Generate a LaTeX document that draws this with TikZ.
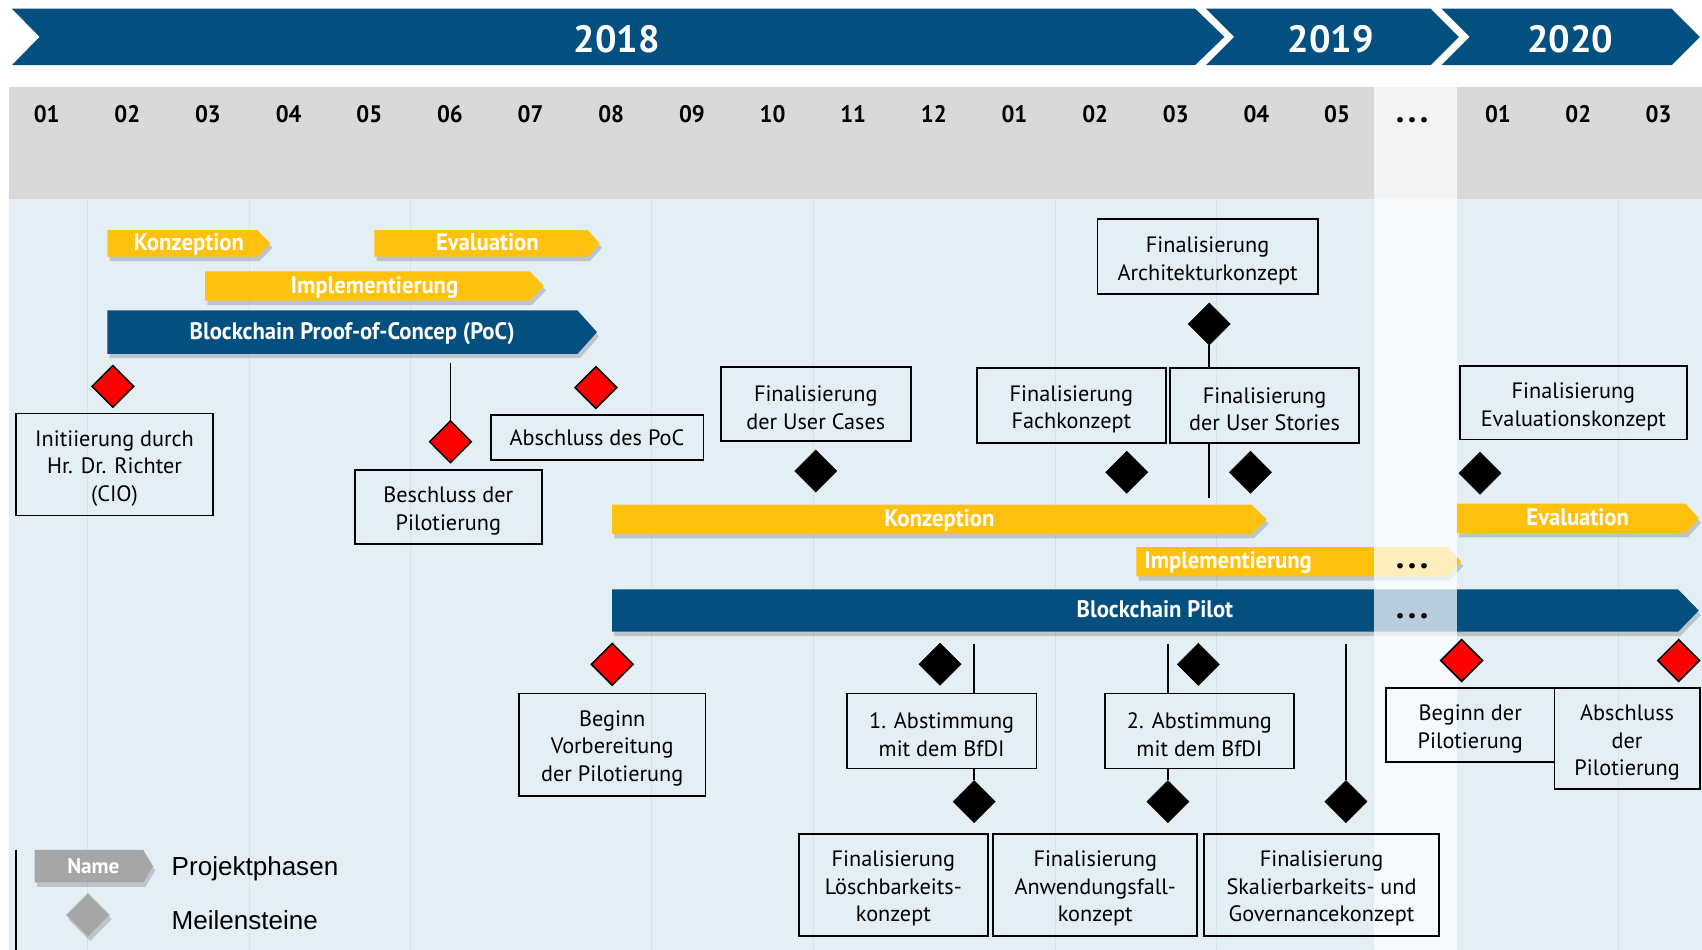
\documentclass[tikz,border=0pt]{standalone}
\usepackage{fontspec}
\setmainfont{PT Sans}
\newfontfamily\condfont{PT Sans}[FakeStretch=0.95]
\newfontfamily\arialfont{Liberation Sans}
\usetikzlibrary{shapes.geometric,shadows}
\definecolor{bundblue}{RGB}{2,79,128}
\definecolor{bundyellow}{RGB}{254,194,14}
\definecolor{headgray}{RGB}{217,217,217}
\definecolor{bgblue}{RGB}{228,239,245}
\definecolor{gridline}{RGB}{212,226,235}
\definecolor{leggray}{RGB}{166,166,166}
\newcommand\phasebar[6]{% x1, x2, tip, y1, y2, color
  \fill[#6, barshadow] (#1,#4) -- (#2,#4) -- (#3,{(#4+#5)/2}) -- (#2,#5) -- (#1,#5) -- cycle;}
\newcommand\bigdots{.\hspace{3.2pt}.\hspace{3.2pt}.}
% box with its text placed slightly below the geometric centre
\newcommand\msnode[6]{% name, cx, cy, width, height, text
  \node[msbox, minimum width=#4pt, minimum height=#5pt] (#1) at (#2,#3) {};
  \node[boxtext] (#1-t) at ([yshift=-3.5pt]#1.center) {#6};}
\begin{document}
\begin{tikzpicture}[x=1pt,y=-1pt,
  barshadow/.style={drop shadow={shadow xshift=2pt,shadow yshift=-4pt,opacity=0.22,fill=black!80}},
  bartext/.style={font=\condfont\bfseries\fontsize{22}{26}\selectfont, text=white, anchor=base, inner sep=0pt},
  monthlab/.style={font=\condfont\bfseries\fontsize{22}{26}\selectfont, anchor=base, inner sep=0pt},
  yearlab/.style={font=\bfseries\fontsize{35}{40}\selectfont, text=white, anchor=base, inner sep=0pt},
  msbox/.style={draw=black, line width=1.6pt, inner sep=0pt},
  boxtext/.style={align=center, inner sep=0pt, font=\fontsize{20.5}{25.5}\selectfont},
  redms/.style={diamond, shape aspect=1, minimum size=39pt, inner sep=0pt, draw=black, line width=1.4pt, fill=red},
  blackms/.style={diamond, shape aspect=1, minimum size=39pt, inner sep=0pt, draw=black, fill=black},
  conn/.style={draw=black, line width=1.6pt},
  dots/.style={font=\bfseries\fontsize{32}{34}\selectfont, anchor=base, inner sep=0pt},
]
% canvas
\fill[white] (0,0) rectangle (1568,875);
\useasboundingbox (0,0) rectangle (1568,875);
% year chevrons
\fill[bundblue] (11,8) -- (1101,8) -- (1128,34) -- (1101,60) -- (11,60) -- (36.5,34) -- cycle;
\fill[bundblue] (1111,8) -- (1318,8) -- (1344,34) -- (1318,60) -- (1111,60) -- (1137,34) -- cycle;
\fill[bundblue] (1328,8) -- (1540,8) -- (1566,34) -- (1540,60) -- (1328,60) -- (1354,34) -- cycle;
\node[yearlab] (y18) at (568,48.5) {2018};
\node[yearlab] (y19) at (1226,48.5) {2019};
\node[yearlab] (y20) at (1446.5,48.5) {2020};
% header and background
\fill[headgray] (8,80) rectangle (1568,183);
\fill[bgblue] (8,183) rectangle (1568,875);
\foreach \gx in {81,230,378,600,749,972,1121,1491}
  \draw[gridline, line width=0.8pt] (\gx,183) -- (\gx,875);
% phase bars (PoC)
\phasebar{99}{237}{249}{212}{236.5}{bundyellow}
\phasebar{345}{541.5}{552.5}{212}{236.5}{bundyellow}
\phasebar{189}{488}{501}{250}{277}{bundyellow}
\phasebar{99}{532}{550}{286}{326}{bundblue}
% phase bars (pilot)
\phasebar{564}{1153}{1167}{465}{492}{bundyellow}
\phasebar{1342}{1553}{1565}{464}{491}{bundyellow}
\phasebar{1047}{1333.5}{1346}{504}{531}{bundyellow}
\phasebar{564}{1546}{1565}{543}{582}{bundblue}
% "..." column overlay
\fill[white, opacity=0.72] (1266,80) rectangle (1342,875);
% month labels
\foreach \m [count=\i from 0] in {01,02,03,04,05,06,07,08,09,10,11,12,01,02,03,04,05}
  \node[monthlab] (m\i) at ({43+74.3*\i},112.5) {\m};
\node[dots] (mdots) at (1301,113) {\bigdots};
\node[monthlab] (n1) at (1380,112.5) {01};
\node[monthlab] (n2) at (1454,112.5) {02};
\node[monthlab] (n3) at (1528,112.5) {03};
% bar texts
\node[bartext] (tk1) at (174,230.5) {Konzeption};
\node[bartext] (te1) at (449,230.5) {Evaluation};
\node[bartext] (ti1) at (345,270) {Implementierung};
\node[bartext] (tpoc) at (324.5,312.5) {Blockchain Proof-of-Concep (PoC)};
\node[bartext] (tk2) at (865.5,485) {Konzeption};
\node[bartext] (te2) at (1453.5,484) {Evaluation};
\node[bartext, anchor=base west] (ti2) at (1054,524) {Implementierung};
\node[dots] (idots) at (1301,523.5) {\bigdots};
\node[bartext] (tpil) at (1064,568.5) {Blockchain Pilot};
\node[dots] (pdots) at (1301,569.5) {\bigdots};
% boxes
\msnode{init}{105.5}{428}{181}{94}{Initiierung durch\\Hr. Dr. Richter\\(CIO)}
\msnode{besch}{413}{467}{172}{68}{Beschluss der\\Pilotierung}
\node[msbox, minimum width=196pt, minimum height=42pt, font=\fontsize{20.5}{25.5}\selectfont] (abspoc) at (550,403) {Abschluss des PoC};
\msnode{ucases}{751.5}{372}{175}{68}{Finalisierung\\der User Cases}
\msnode{arch}{1112.5}{236.5}{203}{69}{Finalisierung\\Architekturkonzept}
\msnode{fach}{987}{373.5}{174}{69}{Finalisierung\\Fachkonzept}
\msnode{stories}{1165}{373.5}{174}{69}{Finalisierung\\der User Stories}
\msnode{evalk}{1449.5}{371}{209}{68}{Finalisierung\\Evaluationskonzept}
\msnode{vorb}{564}{686}{172}{94}{Beginn\\Vorbereitung\\der Pilotierung}
\msnode{abst1}{867.5}{673.5}{175}{69}{1. Abstimmung\\mit dem BfDI}
\msnode{abst2}{1105}{673.5}{174}{69}{2. Abstimmung\\mit dem BfDI}
\msnode{loesch}{823}{815}{174}{94}{Finalisierung\\Löschbarkeits-\\konzept}
\msnode{anw}{1009}{815}{188}{94}{Finalisierung\\Anwendungsfall-\\konzept}
\msnode{skal}{1217.5}{815}{217}{94}{Finalisierung\\Skalierbarkeits- und\\Governancekonzept}
\msnode{beginnp}{1354.5}{668}{155}{68}{Beginn der\\Pilotierung}
\msnode{abschp}{1499}{680.5}{134}{93}{Abschluss\\der\\Pilotierung}
% milestones
\node[redms] (R1) at (104,356) {};
\node[redms] (R2) at (415,407) {};
\node[redms] (R3) at (549,357) {};
\node[redms] (R4) at (564,612) {};
\node[redms] (R5) at (1346.5,608.5) {};
\node[redms] (R6) at (1546.5,608.5) {};
\node[blackms] (B1) at (1114,298.5) {};
\node[blackms] (B2) at (751.5,434) {};
\node[blackms] (B3) at (1038,435) {};
\node[blackms] (B4) at (1152,435) {};
\node[blackms] (B5) at (1363.5,436) {};
\node[blackms] (B6) at (866,612) {};
\node[blackms] (B7) at (897.5,738.5) {};
\node[blackms] (B8) at (1104,612) {};
\node[blackms] (B9) at (1076,738.5) {};
\node[blackms] (B10) at (1240,738.5) {};
% connectors
\coordinate (c1) at (415,334);
\coordinate (c2) at (1114,459);
\coordinate (c3) at (897.5,593);
\coordinate (c4) at (1076,593);
\coordinate (c5) at (1240,593);
\draw[conn] (c1) -- (R2.north);
\draw[conn] (B1.south) -- (B1 |- stories.north);
\draw[conn] (B1 |- stories.south) -- (c2);
\draw[conn] (c3) -- (c3 |- abst1.north);
\draw[conn] (B7 |- abst1.south) -- (B7.north);
\draw[conn] (c4) -- (c4 |- abst2.north);
\draw[conn] (B9 |- abst2.south) -- (B9.north);
\draw[conn] (c5) -- (B10.north);
% legend
\coordinate (lg1) at (14.5,783);
\coordinate (lg2) at (14.5,875);
\draw[black, line width=1.6pt] (lg1) -- (lg2);
\fill[leggray, barshadow] (32,783) -- (132,783) -- (141,798) -- (132,813) -- (32,813) -- cycle;
\node[font=\bfseries\fontsize{19.5}{22}\selectfont, text=white, inner sep=0pt, anchor=base] (lname) at (86,805) {Name};
\node[diamond, shape aspect=1, minimum size=40pt, inner sep=0pt, fill=leggray, draw=leggray!70, barshadow] (lms) at (81,843) {};
\node[font=\arialfont\fontsize{24}{28}\selectfont, anchor=base west, inner sep=0pt] (lp) at (158,806.5) {Projektphasen};
\node[font=\arialfont\fontsize{24}{28}\selectfont, anchor=base west, inner sep=0pt] (lm) at (158,856) {Meilensteine};
\end{tikzpicture}
\end{document}
